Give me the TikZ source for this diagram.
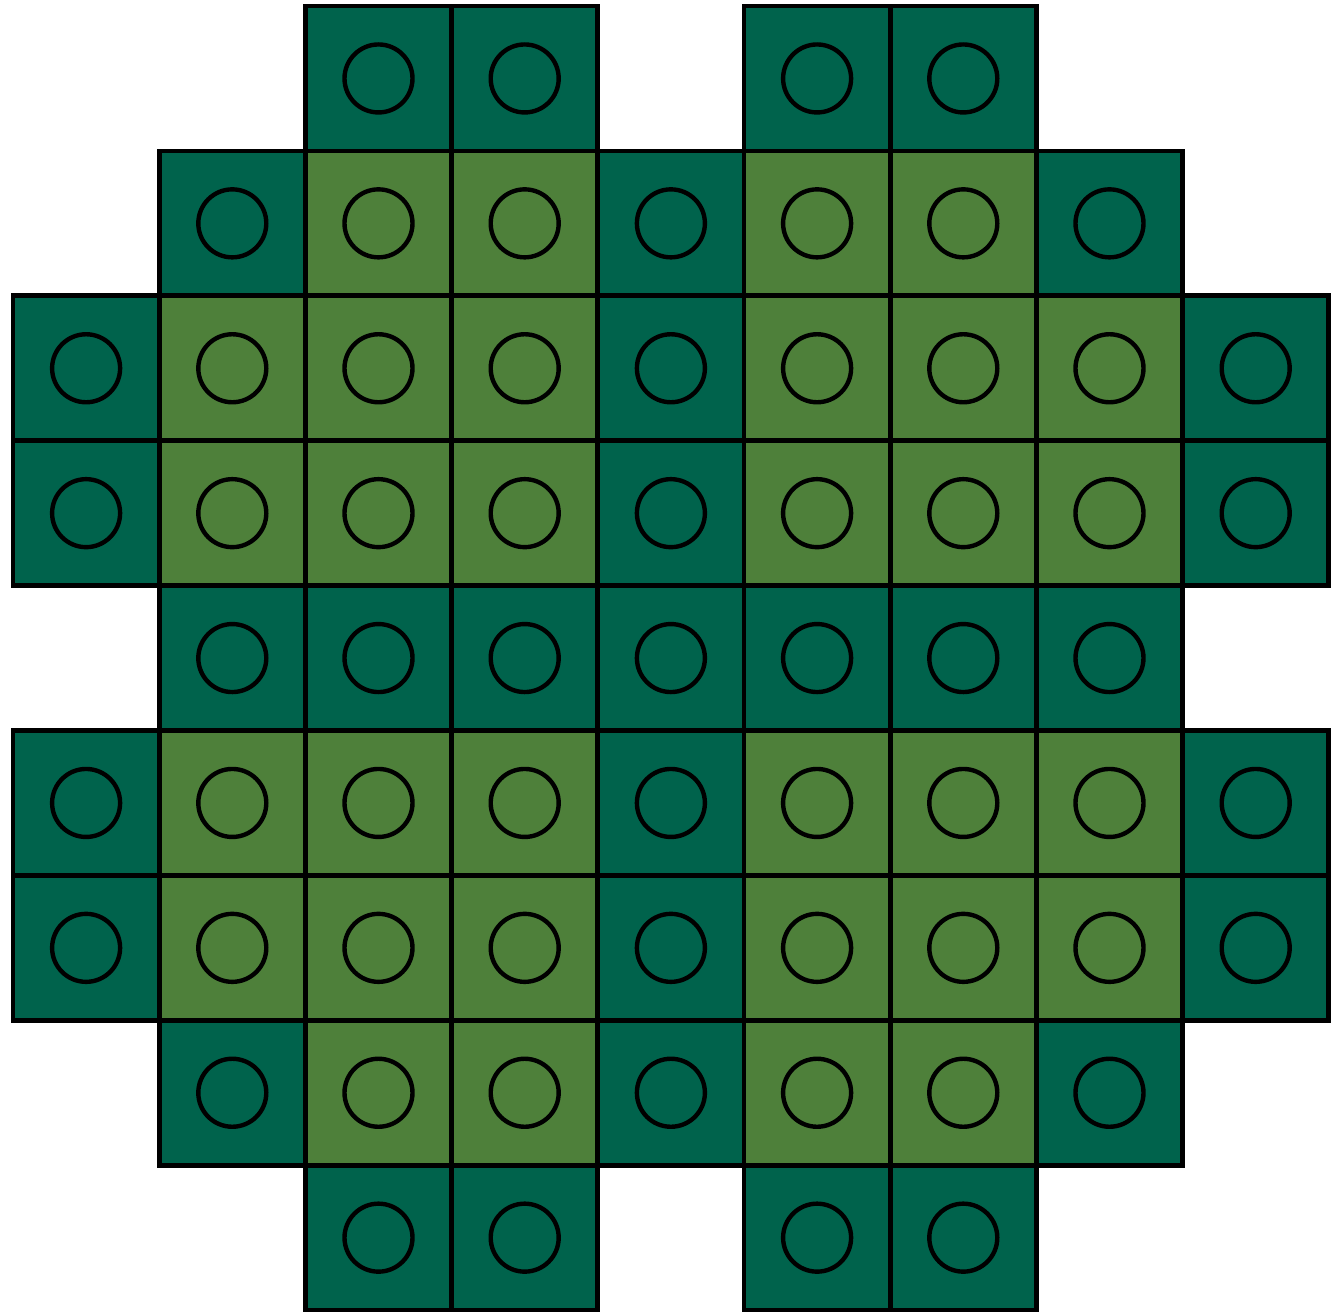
\documentclass[tikz,border=0pt]{standalone}
\definecolor{darkg}{HTML}{00634C}
\definecolor{lightg}{HTML}{4E803A}
\tikzset{
  cellbox/.style={draw=black,line width=2.4pt},
  pin/.style={draw=black,line width=2.2pt},
}
\newcommand{\cellat}[3]{%
  \pgfmathsetmacro{\xa}{13+146.2*#1}%
  \pgfmathsetmacro{\xb}{13+146.2*(#1+1)}%
  \pgfmathsetmacro{\ya}{6+144.9*#2}%
  \pgfmathsetmacro{\yb}{6+144.9*(#2+1)}%
  \draw[cellbox,fill=#3] (\xa,\ya) rectangle (\xb,\yb);%
  \draw[pin] ({(\xa+\xb)/2},{(\ya+\yb)/2}) circle (34);%
}
\begin{document}
\begin{tikzpicture}[x=0.5pt,y=-0.5pt]
\useasboundingbox (0,0) rectangle (1340,1312);
% row 0 and 8
\foreach \r in {0,8}{
  \foreach \c in {2,3,5,6}{\cellat{\c}{\r}{darkg}}
}
% rows 1 and 7
\foreach \r in {1,7}{
  \foreach \c/\k in {1/darkg,2/lightg,3/lightg,4/darkg,5/lightg,6/lightg,7/darkg}{\cellat{\c}{\r}{\k}}
}
% rows 2,3,5,6
\foreach \r in {2,3,5,6}{
  \foreach \c/\k in {0/darkg,1/lightg,2/lightg,3/lightg,4/darkg,5/lightg,6/lightg,7/lightg,8/darkg}{\cellat{\c}{\r}{\k}}
}
% row 4
\foreach \c in {1,...,7}{\cellat{\c}{4}{darkg}}
\end{tikzpicture}
\end{document}
